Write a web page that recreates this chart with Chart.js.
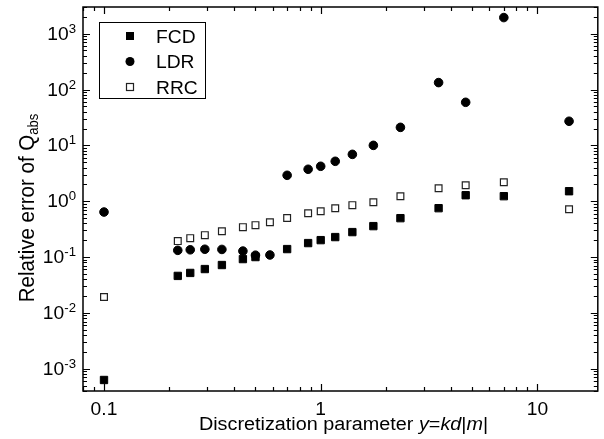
<!DOCTYPE html>
<html lang="en">
<head>
<meta charset="UTF-8">
<title>Relative error of Qabs</title>
<script src="https://cdn.jsdelivr.net/npm/chart.js"></script>
<style>
  html, body { margin: 0; padding: 0; background: #fff; }
</style>
</head>
<body>
<canvas id="errChart" width="604" height="439"></canvas>
<script>
// discretization parameter y = kd|m|
const sizeParam = [0.1, 0.219, 0.25, 0.292, 0.35, 0.4375, 0.5, 0.583, 0.7, 0.875, 1.0, 1.167, 1.4, 1.75, 2.333, 3.5, 4.667, 7.0, 14.0];
const fcdError = [0.00063, 0.046, 0.052, 0.061, 0.072, 0.092, 0.100, null, 0.139, 0.178, 0.201, 0.228, 0.28, 0.358, 0.497, 0.75, 1.28, 1.23, 1.51];
const ldrError = [0.64, 0.132, 0.135, 0.138, 0.137, 0.128, 0.108, 0.109, 2.91, 3.73, 4.22, 5.18, 6.9, 10.0, 21.0, 133, 59, 1940, 27];
const rrcError = [0.0193, 0.193, 0.218, 0.247, 0.29, 0.343, 0.373, 0.42, 0.50, 0.61, 0.66, 0.75, 0.85, 0.96, 1.23, 1.71, 1.93, 2.18, 0.72];
const seriesNames = ['FCD', 'LDR', 'RRC'];
const xTickValues = [0.1, 1, 10];
const xTickLabels = ['0.1', '1', '10'];
const yDecades = [-3, -2, -1, 0, 1, 2, 3];

const FONT = '"Liberation Sans", Arial, sans-serif';
const STRETCH = 1.1;

function toPoints(vals) {
    const pts = [];
    vals.forEach((v, i) => { if (v !== null) pts.push({ x: sizeParam[i], y: v }); });
    return pts;
}

// draw a run of text pieces, optionally rotated, with a slight horizontal stretch
function drawRun(ctx, parts, x, y, align, rotated) {
    ctx.save();
    ctx.translate(x, y);
    if (rotated) {
        ctx.rotate(-Math.PI / 2);
        ctx.scale(1, STRETCH);
    } else {
        ctx.scale(STRETCH, 1);
    }
    let total = 0;
    parts.forEach(p => {
        ctx.font = (p.italic ? 'italic ' : '') + p.size + 'px ' + FONT;
        p.w = ctx.measureText(p.t).width;
        total += p.w;
    });
    let cx = align === 'center' ? -total / 2 : (align === 'right' ? -total : 0);
    ctx.fillStyle = '#000';
    ctx.textBaseline = 'alphabetic';
    ctx.textAlign = 'left';
    parts.forEach(p => {
        ctx.font = (p.italic ? 'italic ' : '') + p.size + 'px ' + FONT;
        ctx.fillText(p.t, cx, p.dy || 0);
        cx += p.w;
    });
    ctx.restore();
}

function drawMarker(ctx, kind, x, y) {
    ctx.save();
    ctx.lineWidth = 1;
    if (kind === 0) {
        ctx.fillStyle = '#000';
        ctx.fillRect(x - 4, y - 4, 8, 8);
    } else if (kind === 1) {
        ctx.fillStyle = '#000';
        ctx.beginPath();
        ctx.arc(x, y, 4.5, 0, Math.PI * 2);
        ctx.fill();
    } else {
        ctx.fillStyle = '#fff';
        ctx.strokeStyle = '#222';
        ctx.lineWidth = 1.2;
        ctx.fillRect(x - 3.5, y - 3.5, 7, 7);
        ctx.strokeRect(x - 3.5, y - 3.5, 7, 7);
    }
    ctx.restore();
}

const framePlugin = {
    id: 'frame',
    afterDraw(chart) {
        const ctx = chart.ctx;
        const a = chart.chartArea;
        const xs = chart.scales.x, ys = chart.scales.y;
        ctx.save();
        ctx.strokeStyle = '#000';
        ctx.lineWidth = 1.5;
        ctx.strokeRect(a.left, a.top, a.right - a.left, a.bottom - a.top);

        // inward ticks on all four sides
        ctx.lineWidth = 1.2;
        ctx.beginPath();
        for (let e = -2; e <= 2; e++) {
            for (let k = 1; k <= 9; k++) {
                const v = k * Math.pow(10, e);
                if (v < xs.min || v > xs.max) continue;
                const px = Math.round(xs.getPixelForValue(v)) + 0.5;
                const len = k === 1 ? 7 : 4;
                ctx.moveTo(px, a.bottom); ctx.lineTo(px, a.bottom - len);
                ctx.moveTo(px, a.top); ctx.lineTo(px, a.top + len);
            }
        }
        for (let e = -4; e <= 3; e++) {
            for (let k = 1; k <= 9; k++) {
                const v = k * Math.pow(10, e);
                if (v < ys.min || v > ys.max) continue;
                const py = Math.round(ys.getPixelForValue(v)) + 0.5;
                const len = k === 1 ? 7 : 4;
                ctx.moveTo(a.left, py); ctx.lineTo(a.left + len, py);
                ctx.moveTo(a.right, py); ctx.lineTo(a.right - len, py);
            }
        }
        ctx.stroke();
        ctx.restore();

        // tick labels
        xTickValues.forEach((v, i) => {
            drawRun(ctx, [{ t: xTickLabels[i], size: 17.5 }], xs.getPixelForValue(v), 415, 'center', false);
        });
        yDecades.forEach(e => {
            const py = ys.getPixelForValue(Math.pow(10, e));
            drawRun(ctx, [
                { t: '10', size: 17.5, dy: 6 },
                { t: String(e), size: 12, dy: -1 }
            ], 76, py, 'right', false);
        });

        // axis titles
        drawRun(ctx, [
            { t: 'Discretization parameter ', size: 18 },
            { t: 'y', size: 18, italic: true },
            { t: '=', size: 18 },
            { t: 'kd', size: 18, italic: true },
            { t: '|', size: 18 },
            { t: 'm', size: 18, italic: true },
            { t: '|', size: 18 }
        ], 343.5, 430, 'center', false);
        drawRun(ctx, [
            { t: 'Relative error of Q', size: 20.5 },
            { t: 'abs', size: 13, dy: 4 }
        ], 34, 208, 'center', true);

        // legend
        ctx.save();
        ctx.strokeStyle = '#000';
        ctx.lineWidth = 1;
        ctx.strokeRect(99.5, 22.5, 106, 76);
        ctx.restore();
        seriesNames.forEach((name, i) => {
            const ly = 36 + i * 25.5;
            drawMarker(ctx, i, 130, ly);
            drawRun(ctx, [{ t: name, size: 17.5 }], 156, ly + 6.5, 'left', false);
        });
    }
};

new Chart(document.getElementById('errChart'), {
    type: 'scatter',
    data: {
        datasets: [
            {
                label: seriesNames[0],
                data: toPoints(fcdError),
                pointStyle: 'rect',
                pointRadius: 5.2,
                backgroundColor: '#000',
                borderColor: '#000',
                borderWidth: 1
            },
            {
                label: seriesNames[1],
                data: toPoints(ldrError),
                pointStyle: 'circle',
                pointRadius: 4.3,
                backgroundColor: '#000',
                borderColor: '#000',
                borderWidth: 1
            },
            {
                label: seriesNames[2],
                data: toPoints(rrcError),
                pointStyle: 'rect',
                pointRadius: 4.8,
                backgroundColor: '#fff',
                borderColor: '#222',
                borderWidth: 1.2
            }
        ]
    },
    options: {
        responsive: false,
        animation: false,
        devicePixelRatio: 1,
        layout: { padding: { left: 0, top: 7, right: 6, bottom: 0 } },
        plugins: {
            legend: { display: false },
            tooltip: { enabled: false }
        },
        scales: {
            x: {
                type: 'logarithmic',
                min: 0.08,
                max: 19,
                grid: { display: false },
                border: { display: false },
                ticks: { display: false },
                afterFit: s => { s.height = 48; }
            },
            y: {
                type: 'logarithmic',
                min: 0.0004,
                max: 3000,
                grid: { display: false },
                border: { display: false },
                ticks: { display: false },
                afterFit: s => { s.width = 83; }
            }
        }
    },
    plugins: [framePlugin]
});
</script>
</body>
</html>
